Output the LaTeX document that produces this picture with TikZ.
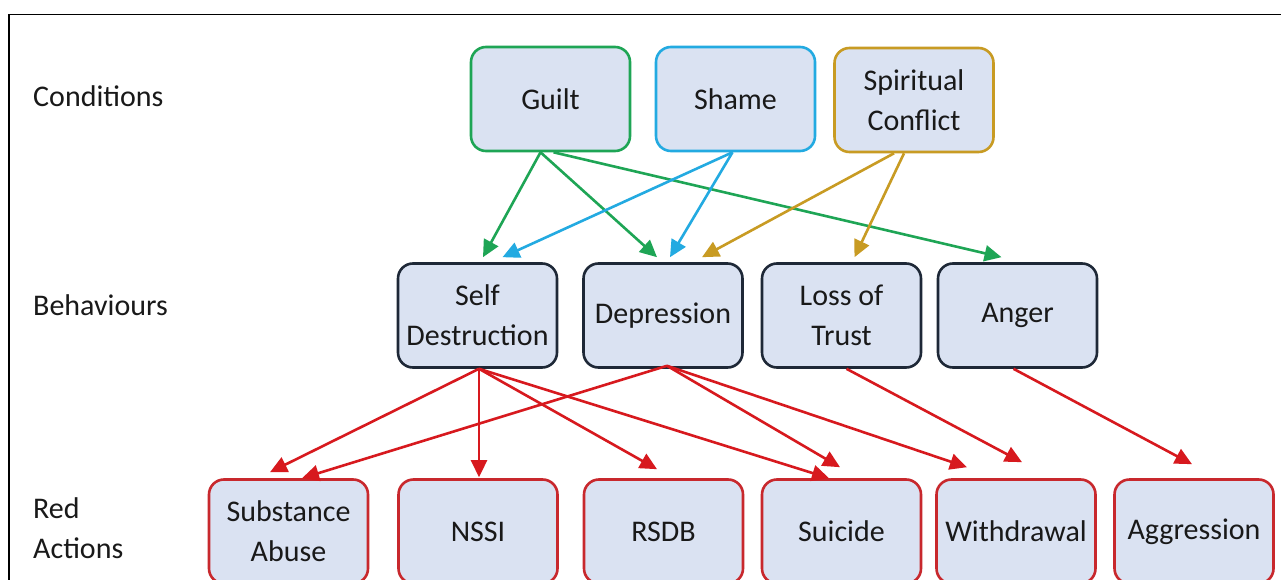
\documentclass[tikz,border=0pt]{standalone}
\usepackage{fontspec}
\setmainfont{Carlito}
\usetikzlibrary{arrows.meta}
\definecolor{boxfill}{RGB}{218,226,242}
\definecolor{cgreen}{RGB}{30,165,85}
\definecolor{cblue}{RGB}{35,170,225}
\definecolor{cgold}{RGB}{200,155,35}
\definecolor{cnavy}{RGB}{30,40,55}
\definecolor{cred}{RGB}{215,25,30}
\definecolor{credbox}{RGB}{200,40,45}
\definecolor{ctext}{RGB}{25,25,25}
\tikzset{
  box/.style={draw, fill=boxfill, rounded corners=15pt, line width=2.6pt,
    minimum width=159pt, minimum height=104pt, inner sep=2pt, align=center,
    text=ctext, font=\fontsize{30}{40}\selectfont},
  lab/.style={anchor=west, align=left, text=ctext, inner sep=0pt,
    font=\fontsize{30}{40}\selectfont},
  arr/.style={line width=2.6pt, -{Triangle[length=17pt,width=16pt]}},
}
\begin{document}
\begin{tikzpicture}[x=1pt,y=-1pt]
\useasboundingbox (0,0) rectangle (1281,580);
\clip (0,0) rectangle (1281,580);
\fill[white] (0,0) rectangle (1281,580);
\draw[line width=1.4pt] (9,600) -- (9,14.5) -- (1300,14.5);
% left labels
\node[lab] (lc) at (33,96) {Conditions};
\node[lab] (lb) at (33,305) {Behaviours};
\node[lab] (la) at (33,528) {Red\\Actions};
% conditions
\node[box, draw=cgreen] (guilt) at (550.5,99) {Guilt};
\node[box, draw=cblue] (shame) at (735.5,99) {Shame};
\node[box, draw=cgold] (sc) at (914,100) {Spiritual\\Conflict};
% behaviours
\node[box, draw=cnavy] (sd) at (477.5,315.5) {Self\\Destruction};
\node[box, draw=cnavy] (dep) at (663,315.5) {Depression};
\node[box, draw=cnavy] (lot) at (841.5,315.5) {Loss of\\Trust};
\node[box, draw=cnavy] (anger) at (1017.5,315.5) {Anger};
% red actions
\node[box, draw=credbox] (sub) at (288.5,531.5) {Substance\\Abuse};
\node[box, draw=credbox] (nssi) at (478,531.5) {NSSI};
\node[box, draw=credbox] (rsdb) at (663.5,531.5) {RSDB};
\node[box, draw=credbox] (sui) at (841.5,531.5) {Suicide};
\node[box, draw=credbox] (wd) at (1016,531.5) {Withdrawal};
\node[box, draw=credbox] (agg) at (1194,531.5) {Aggression};
% green
\draw[arr, cgreen] ([xshift=-10pt]guilt.south) -- ([xshift=5.5pt,yshift=5pt]sd.north);
\draw[arr, cgreen] ([xshift=-10pt]guilt.south) -- ([xshift=-6pt,yshift=5pt]dep.north);
\draw[arr, cgreen] ([xshift=3pt]guilt.south) -- ([xshift=-16pt,yshift=5pt]anger.north);
% blue
\draw[arr, cblue] ([xshift=-3pt]shame.south) -- ([xshift=25pt,yshift=5pt]sd.north);
\draw[arr, cblue] ([xshift=-3pt]shame.south) -- ([xshift=7pt,yshift=5pt]dep.north);
% gold
\draw[arr, cgold] ([xshift=-20pt]sc.south) -- ([xshift=39pt,yshift=5pt]dep.north);
\draw[arr, cgold] ([xshift=-10pt]sc.south) -- ([xshift=13pt,yshift=5pt]lot.north);
% red
\draw[arr, cred] ([xshift=1.5pt]sd.south) -- ([xshift=-18.5pt,yshift=6pt]sub.north);
\draw[arr, cred] ([xshift=1.5pt]sd.south) -- ([xshift=1pt,yshift=1pt]nssi.north);
\draw[arr, cred] ([xshift=1.5pt]sd.south) -- ([xshift=-6.5pt,yshift=9pt]rsdb.north);
\draw[arr, cred] ([xshift=1.5pt]sd.south) -- ([xshift=-12.5pt,yshift=0pt]sui.north);
\draw[arr, cred] ([xshift=4pt,yshift=3pt]dep.south) -- ([xshift=13.5pt,yshift=0pt]sub.north);
\draw[arr, cred] ([xshift=4pt,yshift=3pt]dep.south) -- ([xshift=-1.5pt,yshift=11pt]sui.north);
\draw[arr, cred] ([xshift=4pt,yshift=3pt]dep.south) -- ([xshift=-49pt,yshift=11pt]wd.north);
\draw[arr, cred] ([xshift=5pt]lot.south) -- ([xshift=6pt,yshift=16pt]wd.north);
\draw[arr, cred] ([xshift=-4pt]anger.south) -- ([xshift=-2pt,yshift=14pt]agg.north);
\end{tikzpicture}
\end{document}
